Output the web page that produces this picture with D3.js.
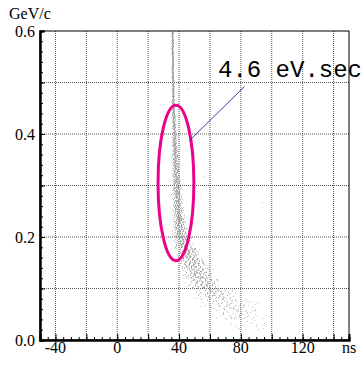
<!DOCTYPE html>
<html>
<head>
<meta charset="utf-8">
<script src="https://cdn.jsdelivr.net/npm/d3@7"></script>
<style>
  html, body { margin: 0; padding: 0; background: #fff; }
  svg { display: block; }
</style>
</head>
<body>
<svg id="chart" width="362" height="366"></svg>
<script>
// momentum slices (GeV/c, slice centre) with the time band
const sliceP      = [0.59, 0.57, 0.55, 0.53, 0.51, 0.49, 0.47, 0.45, 0.43, 0.41, 0.39, 0.37, 0.35, 0.33, 0.31,
                     0.29, 0.27, 0.25, 0.23, 0.21, 0.19, 0.17, 0.15, 0.13, 0.11, 0.09, 0.07, 0.05, 0.03];
const sliceCenter = [35.6, 35.6, 35.7, 35.7, 35.8, 35.9, 36.0, 36.2, 36.4, 36.6, 36.8, 37.0, 37.3, 37.6, 37.9,
                     38.2, 38.6, 39.1, 39.7, 40.5, 42.5, 45.5, 48.5, 51.5, 55.5, 63, 72, 79, 85];
const sliceSpread = [0.8, 0.8, 0.8, 0.9, 0.9, 1.0, 1.1, 1.2, 1.4, 1.6, 1.8, 2.1, 2.4, 2.7, 3.0,
                     3.3, 3.6, 4.0, 4.5, 5.5, 6.5, 8, 9.5, 10.5, 12, 15, 20, 19, 14];
const sliceCount  = [45, 45, 45, 45, 45, 45, 48, 50, 55, 60, 65, 70, 75, 80, 85,
                     90, 95, 100, 110, 120, 130, 140, 150, 145, 130, 105, 80, 55, 18];
// isolated hits [ns, GeV/c]
const strayHits = [[42.8, 0.573], [55.5, 0.318], [93.5, 0.268], [46, 0.49], [60, 0.395], [47, 0.21]];

const xTickLabels = [-40, 0, 40, 80, 120];
const yTickLabels = [0.0, 0.2, 0.4, 0.6];
const xGrid = [-40, -20, 0, 20, 40, 60, 80, 100, 120, 140];
const yGrid = [0.1, 0.2, 0.3, 0.4, 0.5];

// ellipse marking the bunch, in data units
const ellipse = { t: 38, p: 0.305, rt: 11.6, rp: 0.151 };
const labelText = "4.6 eV.sec";

const SERIF = "Liberation Serif";
const MONO = "Liberation Mono";

const svg = d3.select("#chart");
const L = 40, R = 349, T = 31, B = 340;
const x = d3.scaleLinear().domain([-50, 150]).range([L, R]);
const y = d3.scaleLinear().domain([0, 0.6]).range([B, T]);

// grid
svg.append("g").selectAll("line").data(xGrid).enter().append("line")
  .attr("x1", d => x(d)).attr("x2", d => x(d)).attr("y1", T).attr("y2", B)
  .attr("stroke", "#555").attr("stroke-width", 1).attr("stroke-dasharray", "1,1");
svg.append("g").selectAll("line").data(yGrid).enter().append("line")
  .attr("x1", L).attr("x2", R).attr("y1", d => y(d)).attr("y2", d => y(d))
  .attr("stroke", "#555").attr("stroke-width", 1).attr("stroke-dasharray", "1,1");

// halton sequence for placing the hits inside each slice
function halton(i, b) {
  let f = 1, r = 0;
  while (i > 0) { f /= b; r += f * (i % b); i = Math.floor(i / b); }
  return r;
}

const hits = [];
let k = 1;
sliceP.forEach((p, s) => {
  for (let n = 0; n < sliceCount[s]; n++, k++) {
    const u = halton(k, 2), v = halton(k, 3), w = halton(k, 5);
    hits.push([sliceCenter[s] + sliceSpread[s] * (v + w - 1), p - 0.01 + 0.02 * u]);
  }
});
strayHits.forEach(h => hits.push(h));

svg.append("g").selectAll("rect").data(hits).enter().append("rect")
  .attr("x", d => Math.round(x(d[0])))
  .attr("y", d => Math.round(y(d[1])))
  .attr("width", 1).attr("height", 1)
  .attr("fill", "#888").attr("fill-opacity", 0.45);

// frame
svg.append("rect").attr("x", L).attr("y", T).attr("width", R - L).attr("height", B - T)
  .attr("fill", "none").attr("stroke", "#000").attr("stroke-width", 1);

// axes with inward ticks
svg.append("g").attr("transform", `translate(0,${B})`)
  .call(d3.axisTop(x).tickValues(d3.range(-50, 151, 5)).tickSize(3).tickFormat(""));
svg.append("g").attr("transform", `translate(${L},0)`)
  .call(d3.axisRight(y).tickValues(d3.range(0, 0.601, 0.02)).tickSize(3).tickFormat(""));
svg.append("g").attr("transform", `translate(0,${B})`)
  .call(d3.axisTop(x).tickValues(xGrid).tickSize(6).tickFormat(""));
svg.append("g").attr("transform", `translate(${L},0)`)
  .call(d3.axisRight(y).tickValues(yGrid).tickSize(5).tickFormat(""));
svg.selectAll(".domain").attr("stroke", "#000").attr("stroke-width", 2);
svg.selectAll(".tick line").attr("stroke", "#000").attr("stroke-width", 1);

// tick labels
svg.append("g").selectAll("text").data(xTickLabels).enter().append("text")
  .attr("font-family", SERIF).attr("font-size", 16)
  .attr("x", d => x(d)).attr("y", 353)
  .attr("text-anchor", "middle")
  .text(d => d);
svg.append("g").selectAll("text").data(yTickLabels).enter().append("text")
  .attr("font-family", SERIF).attr("font-size", 16)
  .attr("x", 35).attr("y", d => y(d) + 6)
  .attr("text-anchor", "end")
  .text(d => d.toFixed(1));
svg.append("text").attr("font-family", SERIF).attr("font-size", 16)
  .attr("x", 342).attr("y", 353).text("ns");
svg.append("text").attr("font-family", SERIF).attr("font-size", 16)
  .attr("x", 9).attr("y", 19).text("GeV/c");

// annotation
svg.append("ellipse")
  .attr("cx", x(ellipse.t)).attr("cy", y(ellipse.p))
  .attr("rx", x(ellipse.t + ellipse.rt) - x(ellipse.t))
  .attr("ry", y(ellipse.p - ellipse.rp) - y(ellipse.p))
  .attr("fill", "none").attr("stroke", "#ec008c").attr("stroke-width", 3);
svg.append("line")
  .attr("x1", 189).attr("y1", 141).attr("x2", 244.5).attr("y2", 86.5)
  .attr("stroke", "#3c3ca8").attr("stroke-width", 1);
svg.append("text").attr("font-family", MONO).attr("font-size", 24)
  .attr("x", 218).attr("y", 77).text(labelText);
</script>
</body>
</html>
